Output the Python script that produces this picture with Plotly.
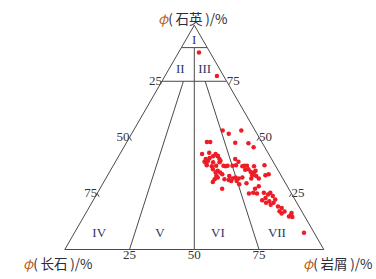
import plotly.graph_objects as go

# ---- sample compositions (volume %) ----
quartz = [87.8, 77.3, 53.1, 51.6, 53.1, 47.6, 47.4, 45.6, 47.9, 47.9,
          42.6, 43.1, 42.6, 41.6, 40.4, 39.1, 38.5, 39.6, 40.8, 38.9,
          37.1, 37.3, 38.9, 40.4, 37.3, 37.3, 37.3, 37.6, 39.1, 37.3,
          37.3, 37.1, 37.6, 40.4, 35.8, 34.3, 35.1, 34.3, 33.6, 32.8,
          31.3, 32.1, 30.1, 32.8, 31.6, 32.1, 31.6, 30.5, 30.5, 31.0,
          35.5, 35.8, 34.6, 34.3, 35.1, 33.1, 32.8, 31.6, 33.1, 33.6,
          27.1, 29.5, 31.6, 25.3, 27.1, 25.3, 23.0, 24.5, 25.3, 23.8,
          21.5, 22.0, 20.8, 22.3, 20.8, 19.2, 18.5, 17.0, 15.5, 14.5,
          14.7, 16.3, 7.5, 32.1, 29.1, 41.6, 41.8, 39.6, 37.1, 37.1,
          25.0, 25.0, 28.2, 16.0, 16.9, 20.0, 37.6, 31.3]
lithic = [7.9, 20.1, 34.4, 37.5, 41.6, 42.0, 47.2, 50.1, 30.9, 32.2,
          31.7, 34.2, 36.9, 38.2, 34.2, 34.4, 35.4, 35.5, 35.5, 37.8,
          38.2, 39.8, 40.3, 39.5, 42.6, 44.2, 46.1, 47.3, 47.5, 50.7,
          51.7, 54.5, 58.3, 45.6, 39.3, 41.1, 41.5, 42.8, 44.0, 42.1,
          42.2, 43.0, 42.1, 47.1, 49.0, 49.8, 51.3, 51.1, 49.0, 47.8,
          51.9, 53.0, 54.5, 55.9, 56.1, 55.8, 57.5, 59.1, 60.9, 61.9,
          47.2, 55.4, 56.2, 60.1, 59.9, 64.2, 66.0, 66.2, 66.7, 68.4,
          68.2, 65.2, 67.3, 70.1, 70.2, 72.7, 74.5, 74.4, 79.6, 80.6,
          79.2, 79.4, 88.6, 52.5, 52.8, 36.4, 38.2, 40.3, 43.5, 50.0,
          58.6, 61.7, 60.8, 75.7, 76.4, 69.5, 36.0, 46.0]
feldspar = [round(100 - q - l, 1) for q, l in zip(quartz, lithic)]

# ---- classification boundaries (Q, F, L) ----
boundaries = [
    [(90, 10, 0), (90, 0, 10)],
    [(75, 25, 0), (75, 0, 25)],
    [(90, 5, 5), (0, 50, 50)],
    [(75, 16.7, 8.3), (0, 75, 25)],
    [(75, 8.3, 16.7), (0, 25, 75)],
]

# ---- field labels ----
field_names = ["I", "II", "III", "IV", "V", "VI", "VII"]
field_q = [93.2, 80.0, 80.0, 7.2, 7.2, 7.2, 7.2]
field_l = [3.4, 4.6, 14.0, 9.7, 33.1, 55.5, 78.3]
field_f = [round(100 - q - l, 1) for q, l in zip(field_q, field_l)]

# ---- edge scale labels ----
left_vals = ["25", "50", "75"]      # feldspar along left edge
right_vals = ["75", "50", "25"]     # quartz along right edge
bottom_vals = ["25", "50", "75"]    # lithics along base
left_ticks = [50, 75]               # feldspar tick marks on left edge
right_ticks = [50, 25]              # quartz tick marks on right edge
TICK = 1.5                          # half length of tick marks (in %)

LINE = "#4a4a4a"
TXT = "#333333"
SERIF = "Liberation Serif, Times New Roman, serif"

fig = go.Figure()

for seg in boundaries:
    fig.add_trace(go.Scatterternary(
        a=[p[0] for p in seg], b=[p[1] for p in seg], c=[p[2] for p in seg],
        mode="lines", line=dict(color=LINE, width=1),
        hoverinfo="skip", showlegend=False))

# tick marks crossing the edges
for f in left_ticks:
    fig.add_trace(go.Scatterternary(
        a=[100 - f - TICK, 100 - f + TICK], b=[f, f], c=[TICK, -TICK],
        mode="lines", line=dict(color=LINE, width=1), cliponaxis=False,
        hoverinfo="skip", showlegend=False))
for q in right_ticks:
    fig.add_trace(go.Scatterternary(
        a=[q - TICK, q + TICK], b=[TICK, -TICK], c=[100 - q, 100 - q],
        mode="lines", line=dict(color=LINE, width=1), cliponaxis=False,
        hoverinfo="skip", showlegend=False))

fig.add_trace(go.Scatterternary(
    a=quartz, b=feldspar, c=lithic, mode="markers",
    marker=dict(color="#ee1c25", size=4.5, line=dict(width=0)),
    showlegend=False))

fig.add_trace(go.Scatterternary(
    a=field_q, b=field_f, c=field_l, mode="text", text=field_names,
    textfont=dict(family=SERIF, size=13, color="#2e3768"),
    cliponaxis=False, hoverinfo="skip", showlegend=False))

lv = [float(v) for v in left_vals]
fig.add_trace(go.Scatterternary(
    a=[100 - v for v in lv], b=lv, c=[0] * 3, mode="text", text=left_vals,
    textposition="middle left",
    textfont=dict(family=SERIF, size=13, color=TXT),
    cliponaxis=False, hoverinfo="skip", showlegend=False))

rv = [float(v) for v in right_vals]
fig.add_trace(go.Scatterternary(
    a=rv, b=[0] * 3, c=[100 - v for v in rv], mode="text", text=right_vals,
    textposition="middle right",
    textfont=dict(family=SERIF, size=13, color=TXT),
    cliponaxis=False, hoverinfo="skip", showlegend=False))

bv = [float(v) for v in bottom_vals]
fig.add_trace(go.Scatterternary(
    a=[0] * 3, b=[100 - v for v in bv], c=bv, mode="text", text=bottom_vals,
    textposition="bottom center",
    textfont=dict(family=SERIF, size=13, color=TXT),
    cliponaxis=False, hoverinfo="skip", showlegend=False))

axis_common = dict(showgrid=False, showticklabels=False, title=dict(text=""),
                   linecolor=LINE, linewidth=1, ticks="", min=0)

fig.update_layout(
    width=376, height=279,
    margin=dict(l=0, r=0, t=0, b=0),
    paper_bgcolor="white",
    ternary=dict(
        sum=100,
        bgcolor="white",
        domain=dict(x=[0.1444, 0.8891], y=[0.1057, 0.9097]),
        aaxis=axis_common,
        baxis=axis_common,
        caxis=axis_common,
    ),
)

PHI = "<span style='color:#c0651c'><i>φ</i></span>"
title_font = dict(family="Noto Sans CJK SC", size=13.5, color="#2b2b3b")
for txt, x, y in [("(\u2009石英\u2009)/%", 0.514, 0.937),
                  ("(\u2009长石\u2009)/%", 0.153, 0.057),
                  ("(\u2009岩屑\u2009)/%", 0.898, 0.057)]:
    fig.add_annotation(text=PHI + txt, x=x, y=y, xref="paper", yref="paper",
                       showarrow=False, font=title_font,
                       xanchor="center", yanchor="middle")

fig.write_html("out.html")
